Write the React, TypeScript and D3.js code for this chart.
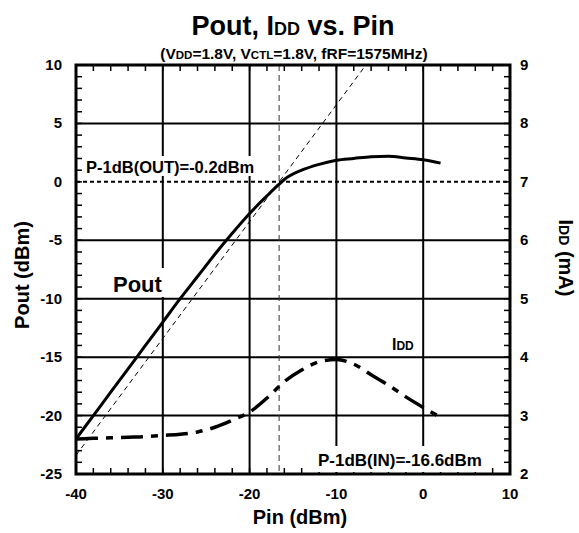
import React from "react";
import * as d3 from "d3";

const pinPout = [-40, -38, -36, -34, -32, -30, -28, -26, -24, -22, -20, -18, -16.6, -16, -14, -12, -10, -8, -6, -4, -2, 0, 2];
const poutVals = [-22, -20, -18, -16, -14, -12, -10, -8.1, -6.2, -4.4, -2.7, -1.2, -0.2, 0.2, 1.0, 1.5, 1.85, 2.0, 2.15, 2.2, 2.05, 1.9, 1.6];
const pinIdd = [-40, -38, -36, -34, -32, -30, -28, -26, -24, -22, -20, -18, -16, -14, -12, -10, -8, -6, -4, -2, 0, 2];
const iddVals = [2.6, 2.61, 2.62, 2.63, 2.64, 2.66, 2.68, 2.72, 2.8, 2.92, 3.06, 3.3, 3.58, 3.78, 3.92, 3.96, 3.88, 3.7, 3.52, 3.32, 3.14, 2.97];
const idealLine = [[-40, -23.4], [-6.6, 10]];
const p1dbIn = -16.6;
const xTicks = [-40, -30, -20, -10, 0, 10];
const yTicks = [-25, -20, -15, -10, -5, 0, 5, 10];
const y2Ticks = [2, 3, 4, 5, 6, 7, 8, 9];

const W = 579, H = 533;
const L = 76, R = 510, T = 65, B = 474;
const FONT = "'Liberation Sans', Arial, sans-serif";

export default function App() {
  const x = d3.scaleLinear().domain([-40, 10]).range([L, R]);
  const y = d3.scaleLinear().domain([-25, 10]).range([B, T]);
  const y2 = d3.scaleLinear().domain([2, 9]).range([B, T]);
  const xMinor = d3.range(-40, 10.001, 2);
  const yMinor = d3.range(-25, 10.001, 1);
  const poutLine = d3.line<number>().x((d, i) => x(pinPout[i])).y((d) => y(d)).curve(d3.curveMonotoneX)(poutVals);
  const iddLine = d3.line<number>().x((d, i) => x(pinIdd[i])).y((d) => y2(d)).curve(d3.curveMonotoneX)(iddVals);
  const idealPath = d3.line<number[]>().x((d) => x(d[0])).y((d) => y(d[1]))(idealLine);

  return (
    <svg width={W} height={H} style={{ position: "absolute", left: 0, top: 0, background: "#fff" }} fontFamily={FONT}>
      <rect x={0} y={0} width={W} height={H} fill="#fff" />
      {/* grid */}
      {xTicks.slice(1, -1).map((t) => (
        <line key={"gx" + t} x1={x(t)} x2={x(t)} y1={T} y2={B} stroke="#000" strokeWidth={2} />
      ))}
      {yTicks.slice(1, -1).filter((t) => t !== 0).map((t) => (
        <line key={"gy" + t} x1={L} x2={R} y1={y(t)} y2={y(t)} stroke="#000" strokeWidth={2} />
      ))}
      {/* minor ticks */}
      {xMinor.map((t) => (
        <g key={"mx" + t}>
          <line x1={x(t)} x2={x(t)} y1={B} y2={B - 6} stroke="#000" strokeWidth={1.5} />
          <line x1={x(t)} x2={x(t)} y1={T} y2={T + 6} stroke="#000" strokeWidth={1.5} />
        </g>
      ))}
      {yMinor.map((t) => (
        <g key={"my" + t}>
          <line x1={L} x2={L + 6} y1={y(t)} y2={y(t)} stroke="#000" strokeWidth={1.5} />
          <line x1={R} x2={R - 6} y1={y(t)} y2={y(t)} stroke="#000" strokeWidth={1.5} />
        </g>
      ))}
      {/* annotation boxes */}
      <rect x={84} y={156} width={182} height={20} fill="#fff" />
      <rect x={111} y={268} width={55} height={29} fill="#fff" />
      <rect x={315} y={446} width={176} height={26} fill="#fff" />
      <line x1={L} x2={R} y1={y(0)} y2={y(0)} stroke="#000" strokeWidth={2} strokeDasharray="4 3" />
      {/* vertical dashed */}
      <line x1={x(p1dbIn)} x2={x(p1dbIn)} y1={T} y2={B} stroke="#333" strokeWidth={1} strokeDasharray="6 4" />
      {/* ideal */}
      <path d={idealPath || ""} fill="none" stroke="#000" strokeWidth={1} strokeDasharray="5 4" />
      {/* curves */}
      <path d={poutLine || ""} fill="none" stroke="#000" strokeWidth={3} />
      <path d={iddLine || ""} fill="none" stroke="#000" strokeWidth={3.5} strokeDasharray="22 8 7 8" />
      {/* frame */}
      <rect x={L} y={T} width={R - L} height={B - T} fill="none" stroke="#000" strokeWidth={3} />
      {/* tick labels */}
      {yTicks.map((t) => (
        <text key={"ly" + t} x={L - 14} y={y(t) + 5} textAnchor="end" fontSize={15} fontWeight="bold">{t}</text>
      ))}
      {y2Ticks.map((t) => (
        <text key={"ly2" + t} x={R + 10} y={y2(t) + 5} textAnchor="start" fontSize={15} fontWeight="bold">{t}</text>
      ))}
      {xTicks.map((t) => (
        <text key={"lx" + t} x={x(t)} y={B + 25} textAnchor="middle" fontSize={15} fontWeight="bold">{t}</text>
      ))}
      {/* axis titles */}
      <text x={300} y={524} textAnchor="middle" fontSize={20} fontWeight="bold">Pin (dBm)</text>
      <text transform={`translate(29,275) rotate(-90)`} textAnchor="middle" fontSize={20} fontWeight="bold">Pout (dBm)</text>
      <text transform={`translate(559,258) rotate(90)`} textAnchor="middle" fontSize={20} fontWeight="bold">
        I<tspan fontSize={14}>DD</tspan> (mA)
      </text>
      {/* titles */}
      <text x={293} y={35} textAnchor="middle" fontSize={27} fontWeight="bold">
        Pout, I<tspan fontSize={18}>DD</tspan> vs. Pin
      </text>
      <text x={294} y={59} textAnchor="middle" fontSize={15.5} fontWeight="bold">
        (V<tspan fontSize={11.5}>DD</tspan>=1.8V, V<tspan fontSize={11.5}>CTL</tspan>=1.8V, fRF=1575MHz)
      </text>
      {/* annotations */}
      <text x={86} y={173} fontSize={16.5} fontWeight="bold">P-1dB(OUT)=-0.2dBm</text>
      <text x={113} y={292} fontSize={22} fontWeight="bold">Pout</text>
      <text x={392} y={350} fontSize={16} fontWeight="bold">I<tspan fontSize={12}>DD</tspan></text>
      <text x={318} y={466} fontSize={17} fontWeight="bold">P-1dB(IN)=-16.6dBm</text>
    </svg>
  );
}
